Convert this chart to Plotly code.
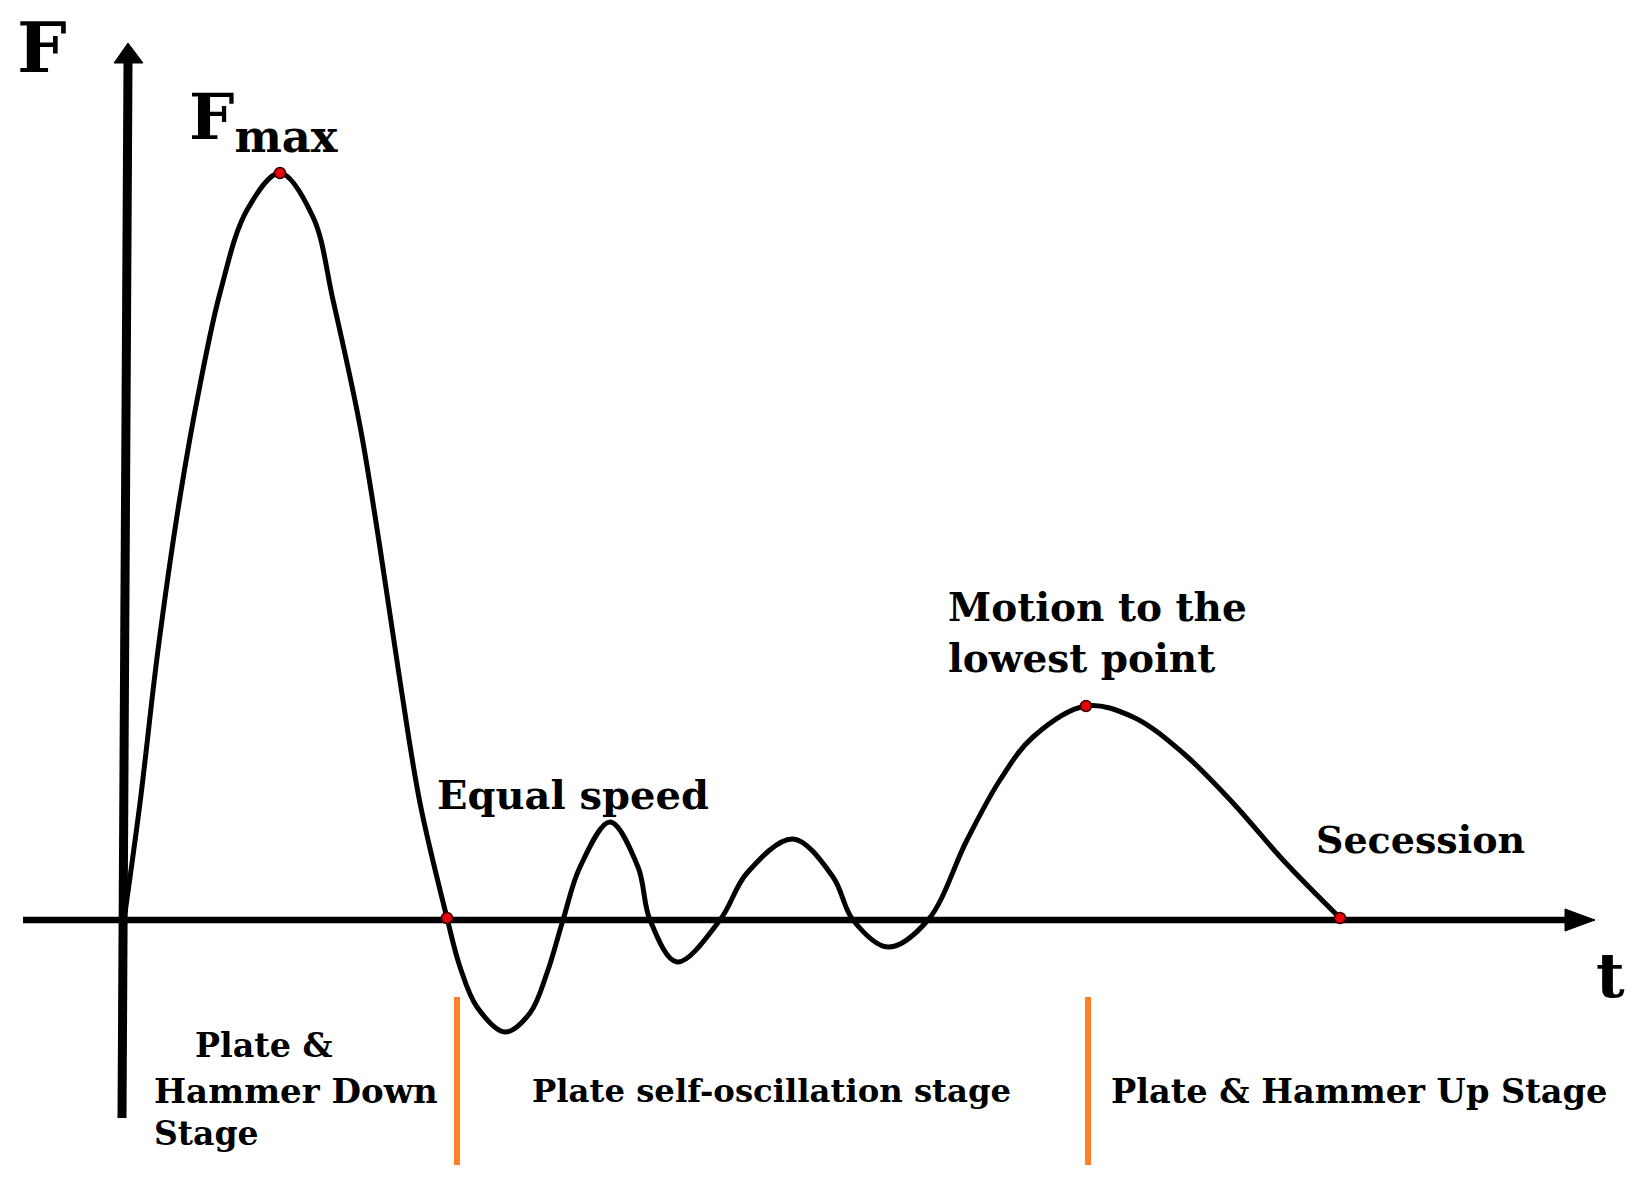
import plotly.graph_objects as go

# ---- force curve (t, F in arbitrary units) ----
t_pts = [0, 1.6, 3.4, 5.6, 7.6, 9.6, 12.3, 15.6, 18.9, 20.9, 23.6, 25.6,
         27.6, 29.6, 32.3, 33.6, 35.3, 38.1, 40.6, 42.3, 43.9, 45.6, 48.6,
         51.4, 52.6, 55.3, 59.6, 62.3, 66.9, 70.9, 72.9, 76.4, 80.4, 84.3,
         87.6, 90.9, 96.2, 100.9, 105.9, 110.9, 115.9, 121.6]
f_pts = [0, 11.7, 27.0, 42.3, 53.5, 62.7, 71.0, 74.7, 70.3, 62.0, 49.4, 37.2,
         23.9, 11.7, 0.2, -4.7, -8.7, -11.2, -9.3, -5.3, 0, 5.3, 9.8,
         5.3, 0, -4.2, 0, 4.7, 8.1, 4.3, 0, -2.7, 0, 8.0,
         14.0, 18.3, 21.4, 20.3, 16.7, 11.7, 6.0, 0.2]

# key events (Fmax, equal speed, lowest point, secession)
event_t = [15.6, 32.3, 96.2, 121.6]
event_f = [74.7, 0.2, 21.4, 0.2]

# stage boundaries
stage_t = [33.3, 96.4]
stage_f = [-7.7, -24.5]

# axis extents
t_axis = [-10.1, 144.1, 147.1]   # start, arrow base, arrow tip
f_axis = [-19.8, 85.7, 87.7]

FONT = "DejaVu Serif"

fig = go.Figure()

fig.add_trace(go.Scatter(
    x=t_pts, y=f_pts, mode="lines",
    line=dict(color="black", width=5, shape="spline", smoothing=1.0),
    hoverinfo="skip", showlegend=False
))

fig.add_trace(go.Scatter(
    x=event_t, y=event_f, mode="markers",
    marker=dict(size=11, color="#e8000b", line=dict(color="#3a0000", width=1.5)),
    hoverinfo="skip", showlegend=False
))

shapes = []
# t axis
shapes.append(dict(type="line", x0=t_axis[0], y0=0, x1=t_axis[1], y1=0,
                   line=dict(color="black", width=6.5), layer="below"))
shapes.append(dict(type="path",
                   path=f"M {t_axis[2]},0 L {t_axis[1]},1.1 L {t_axis[1]},-1.1 Z",
                   fillcolor="black", line=dict(color="black", width=1), layer="below"))
# F axis (slightly slanted like the sketch)
shapes.append(dict(type="line", x0=-0.2, y0=f_axis[0], x1=0.4, y1=f_axis[1],
                   line=dict(color="black", width=9), layer="below"))
shapes.append(dict(type="path",
                   path=f"M 0.4,{f_axis[2]} L -1.0,{f_axis[1]} L 1.9,{f_axis[1]} Z",
                   fillcolor="black", line=dict(color="black", width=1), layer="below"))
# stage separators
for s in stage_t:
    shapes.append(dict(type="line", x0=s, y0=stage_f[0], x1=s, y1=stage_f[1],
                       line=dict(color="#ff7f2a", width=6), layer="below"))

W, H = 1640, 1187


def label(text, px, py, size):
    return dict(text=text, x=px / W, y=1 - py / H, xref="paper", yref="paper",
                xanchor="left", yanchor="middle", showarrow=False, align="left",
                font=dict(family=FONT, size=size, color="black", weight=700))


annotations = [
    label("F", 15, 47, 70),
    label("F<sub>max</sub>", 187, 121, 64),
    label("Equal speed", 435, 794, 40),
    label("Motion to the<br>lowest point", 946, 632, 39),
    label("Secession", 1314, 839, 38),
    label("t", 1594, 975, 62),
    label("Plate &", 193, 1045, 33.3),
    label("Hammer Down", 152, 1091, 34),
    label("Stage", 152, 1133, 33),
    label("Plate self-oscillation stage", 530, 1091, 32.3),
    label("Plate & Hammer Up Stage", 1109, 1091, 33.6),
]

fig.update_layout(
    width=W, height=H,
    margin=dict(l=0, r=0, t=0, b=0),
    paper_bgcolor="white", plot_bgcolor="white",
    xaxis=dict(range=[-12.4, 151.6], visible=False, fixedrange=True),
    yaxis=dict(range=[-26.7, 92.0], visible=False, fixedrange=True),
    shapes=shapes,
    annotations=annotations,
)

# drop the default page margin so the figure sits at the window corner
fig.write_html("out.html", config={"displayModeBar": False},
               post_script="document.body.style.margin='0px';")
